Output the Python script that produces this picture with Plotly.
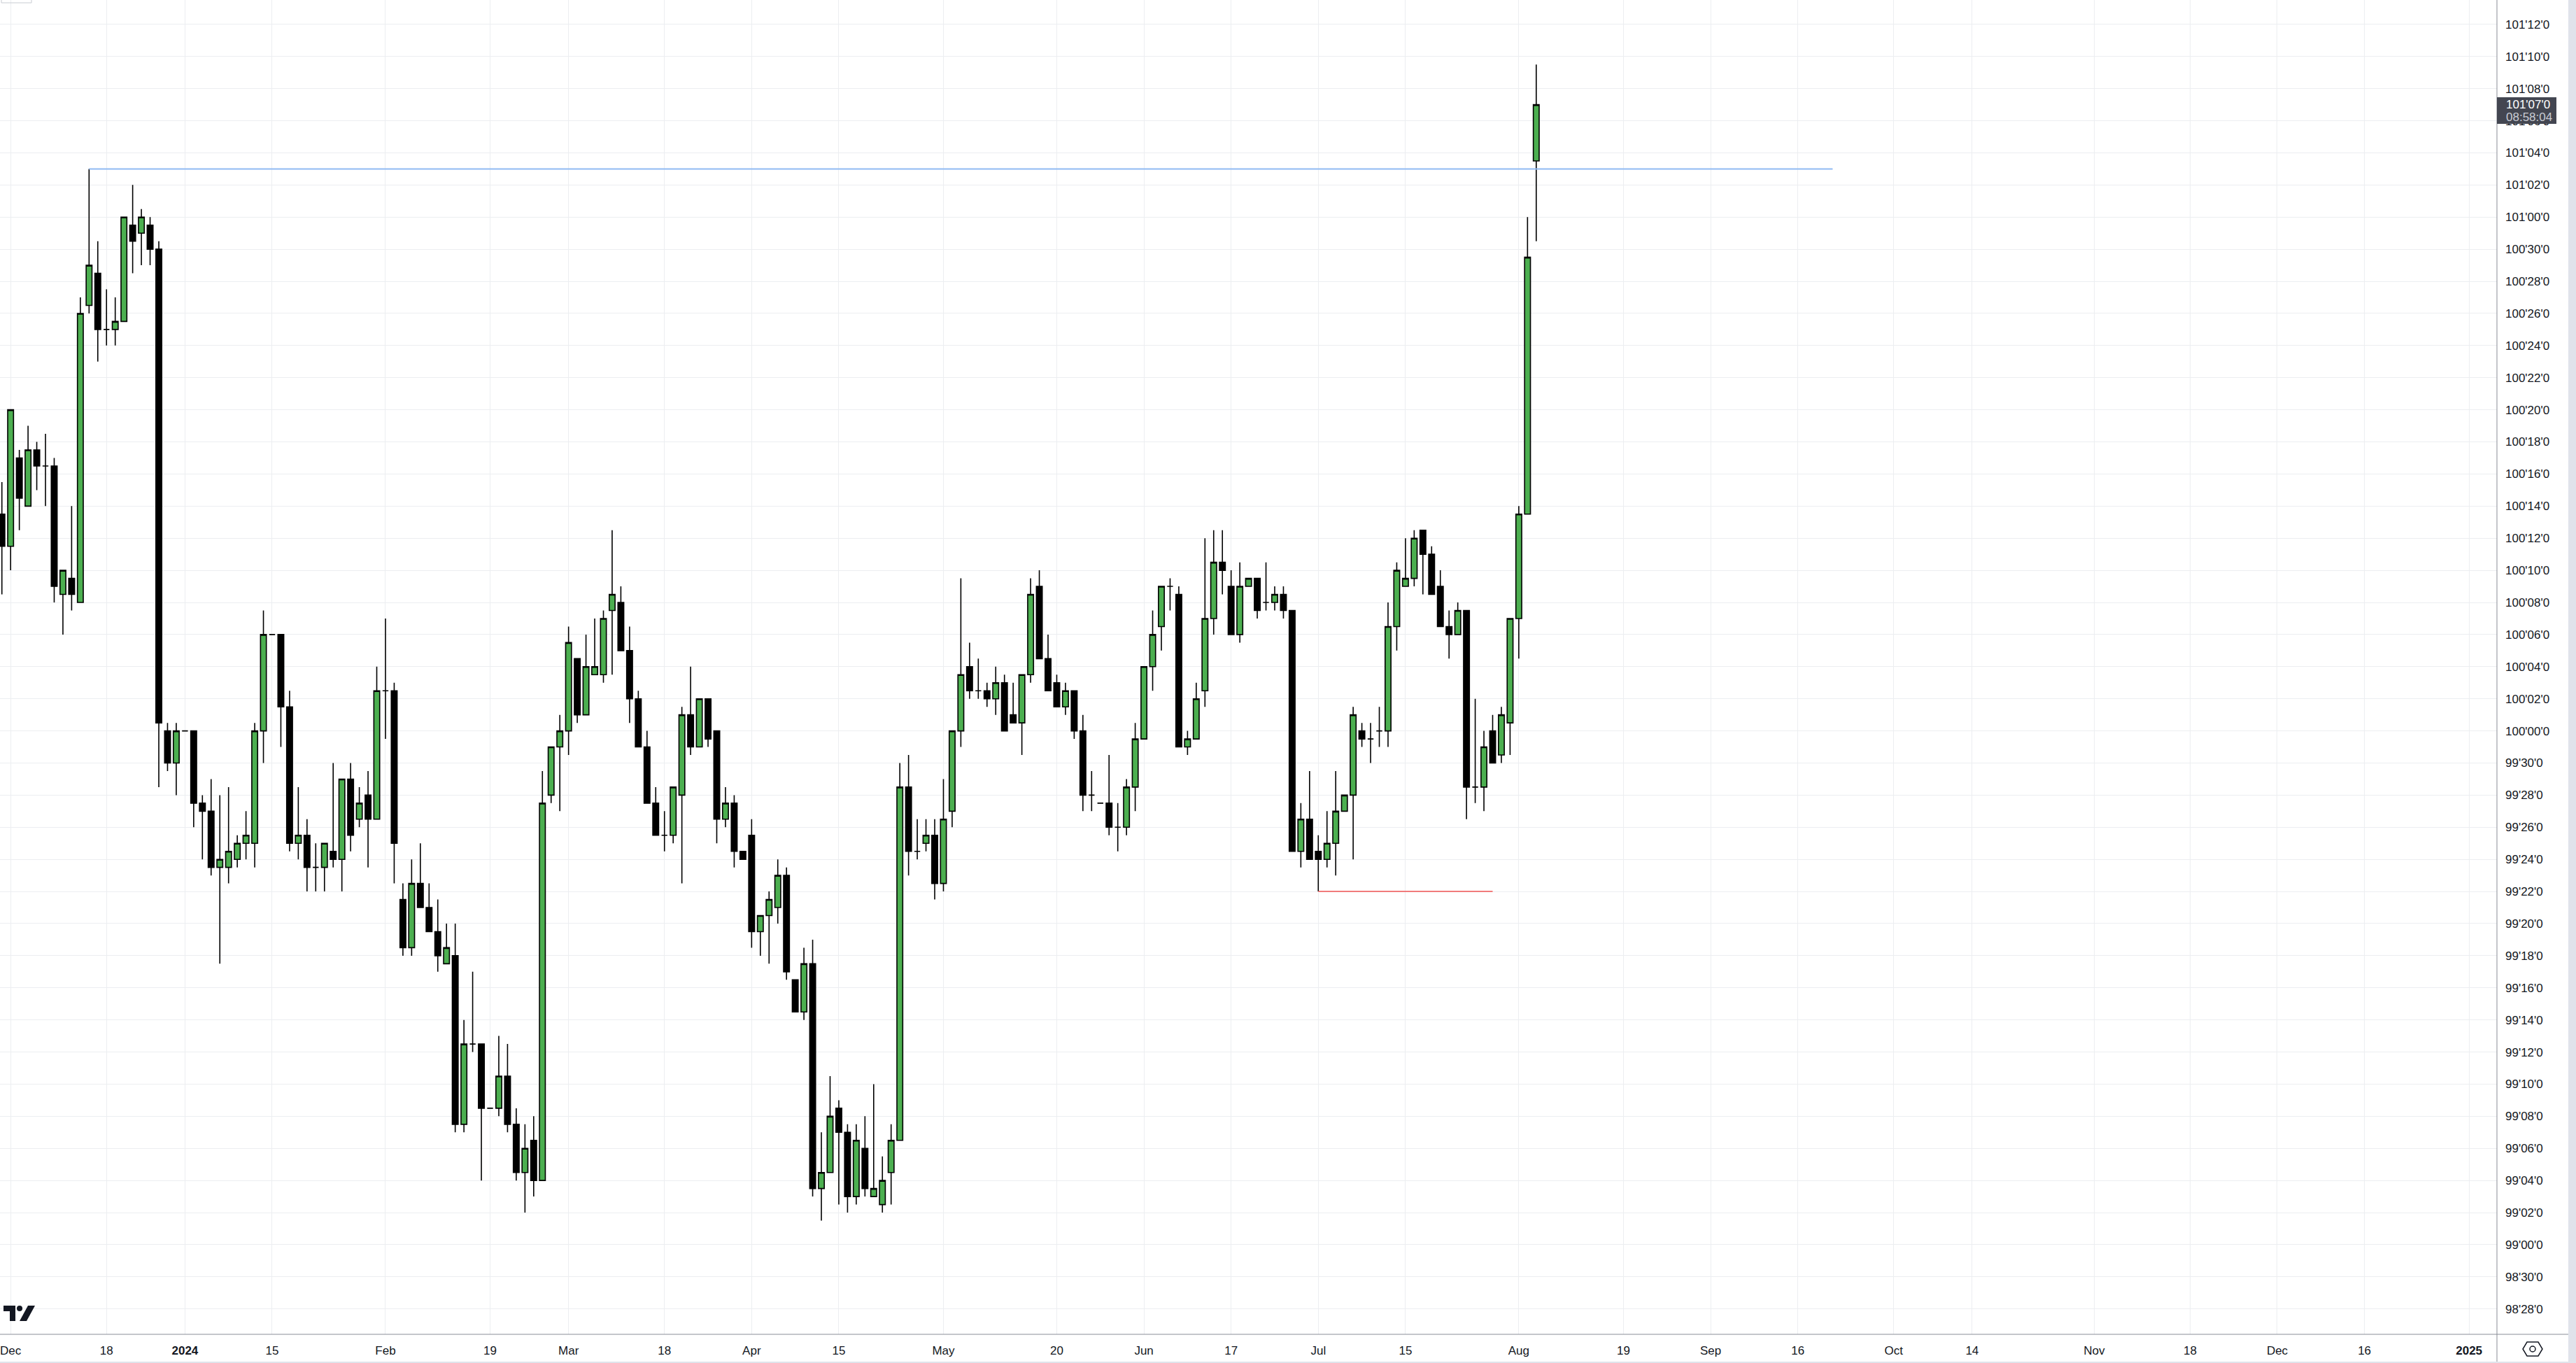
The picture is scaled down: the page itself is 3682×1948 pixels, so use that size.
import pandas as pd
import plotly.graph_objects as go

# ---------------- data: daily OHLC, quoted in 32nds above 99'00 ----------------
OPEN_32 = [
    45.5, 43.5, 49, 46, 49.5, 48.5, 48.5, 40.5, 41.5, 40,
    58.5, 60.5, 57, 57, 57.5, 63.5, 63, 63.5, 62, 32,
    30, 32, 32, 27.5, 27, 23.5, 23.5, 24, 25, 25,
    32, 38, 38, 33.5, 25, 25.5, 23.5, 23.5, 24.5, 24,
    29, 26.5, 28, 26.5, 34.5, 34.5, 21.5, 18.5, 22.5, 21,
    19.5, 17.5, 18, 7.5, 12.5, 12.5, 8.5, 8.5, 10.5, 7.5,
    4.5, 6.5, 4, 28, 31, 32, 36.5, 33, 35.5, 35.5,
    39.5, 40, 37, 34, 31, 27.5, 25.5, 25.5, 28, 33,
    31, 34, 32, 26.5, 27.5, 24.5, 25.5, 19.5, 20.5, 21,
    23, 16.5, 14.5, 17.5, 3.5, 4.5, 8.5, 7, 3, 6,
    3, 2.5, 4.5, 6.5, 28.5, 24.5, 25, 25.5, 22.5, 27,
    32, 36, 34.5, 34.5, 34, 35, 33, 32.5, 35.5, 41,
    36.5, 35, 33.5, 34.5, 32, 28, 27.5, 27.5, 26, 26,
    28.5, 31.5, 36, 38.5, 41, 40.5, 31, 31.5, 34.5, 39,
    42.5, 41, 38, 41, 41.5, 40, 40, 40.5, 39.5, 24.5,
    26.5, 24.5, 24, 25, 27, 28, 32, 31.5, 32, 32,
    38.5, 41, 41.5, 44.5, 43, 41, 38.5, 38, 39.5, 28.5,
    28.5, 32, 30.5, 32.5, 39, 45.5, 67.5,
]
HIGH_32 = [
    47.5, 52, 49.5, 51, 50, 50.5, 49, 42, 46, 59,
    67, 62.5, 59.5, 59, 64, 66, 64.5, 64, 62.5, 32.5,
    32.5, 32, 32, 28, 29, 28, 28.5, 25.5, 27, 32.5,
    39.5, 38, 38, 34.5, 28.5, 26.5, 25, 25, 30, 29,
    30, 28.5, 29.5, 36, 39, 35, 22.5, 24, 25, 22.5,
    21.5, 20, 20, 14, 17, 12.5, 8.5, 13, 12.5, 8.5,
    7.5, 8, 29.5, 31, 33, 38.5, 36.5, 38, 39, 39.5,
    44.5, 41, 38.5, 34.5, 32, 28.5, 27, 28.5, 33.5, 36,
    34, 34, 32, 28.5, 28, 24.5, 26.5, 20.5, 22, 24,
    23.5, 16.5, 18.5, 19, 7, 10.5, 9, 7.5, 7.5, 8,
    10, 5.5, 7.5, 30, 30.5, 26.5, 26.5, 26.5, 29, 32,
    41.5, 37.5, 36.5, 35, 36, 35.5, 35, 35.5, 41.5, 42,
    38, 35.5, 35, 34.5, 33, 29.5, 27.5, 30.5, 27.5, 29,
    32.5, 36, 39.5, 41, 41.5, 41, 32, 35, 44, 44.5,
    44.5, 42, 42.5, 41.5, 41.5, 42.5, 41, 41, 39.5, 27.5,
    29.5, 25.5, 27, 29.5, 28, 33.5, 32.5, 32.5, 33.5, 40,
    42.5, 44, 44.5, 44.5, 43.5, 42, 39.5, 40, 39.5, 34,
    32, 33, 33.5, 39, 46, 64, 73.5,
]
LOW_32 = [
    40.5, 42, 44.5, 46, 47, 46, 40, 38, 39.5, 40,
    58, 55, 56, 56, 57.5, 60.5, 61, 61, 28.5, 29.5,
    28, 32, 26, 24, 23, 17.5, 22.5, 23.5, 24, 23.5,
    30, 38, 31, 24.5, 24, 22, 22, 22, 23.5, 22,
    24.5, 26, 23.5, 26.5, 31.5, 22.5, 18, 18, 21, 19.5,
    17, 17.5, 7, 7, 12, 4, 8.5, 8, 7, 4,
    2, 3, 4, 27.5, 27, 30.5, 32.5, 33, 35.5, 35,
    35.5, 37, 32.5, 31, 27.5, 25.5, 24.5, 25, 22.5, 30.5,
    31, 31, 25, 26, 23.5, 24, 18.5, 18, 17.5, 20,
    16.5, 14.5, 14, 3, 1.5, 4.5, 2.5, 2, 2.5, 3,
    3, 2, 2.5, 6.5, 23, 24, 24.5, 21.5, 22, 26,
    31, 34, 34, 33.5, 33, 32, 32.5, 30.5, 35, 36.5,
    34.5, 33.5, 33, 31.5, 27, 27, 27.5, 25.5, 24.5, 25.5,
    27, 31.5, 34.5, 37, 39.5, 31, 30.5, 31.5, 33.5, 38,
    40.5, 38, 37.5, 41, 39, 39.5, 39.5, 39, 24.5, 23.5,
    24, 22, 23.5, 23, 27, 24, 31, 30, 31, 31,
    37, 41, 41, 40.5, 40.5, 38.5, 36.5, 38, 26.5, 27.5,
    27, 30, 30, 30.5, 36.5, 45.5, 62.5,
]
CLOSE_32 = [
    43.5, 52, 46.5, 49.5, 48.5, 48.5, 41, 42, 40.5, 58,
    61, 57, 57, 57.5, 64, 62.5, 64, 62, 32.5, 30,
    32, 32, 27.5, 27, 23.5, 24, 24.5, 25, 25.5, 32,
    38, 38, 33.5, 25, 25.5, 23.5, 23.5, 25, 24, 29,
    25.5, 27.5, 26.5, 34.5, 34.5, 25, 18.5, 22.5, 21, 19.5,
    18, 18.5, 7.5, 12.5, 12.5, 8.5, 8.5, 10.5, 7.5, 4.5,
    6, 4, 27.5, 31, 32, 37.5, 33, 36, 36, 39,
    40.5, 37, 34, 31, 27.5, 25.5, 25.5, 28.5, 33, 31,
    34, 31.5, 26.5, 27.5, 24.5, 24, 19.5, 20.5, 21.5, 23,
    17, 14.5, 17.5, 3.5, 4.5, 8, 7, 3, 6.5, 3.5,
    3.5, 4, 6.5, 28.5, 24.5, 24.5, 25.5, 22.5, 26.5, 32,
    35.5, 34.5, 34.5, 34, 35, 32, 32.5, 35.5, 40.5, 36.5,
    34.5, 33.5, 34.5, 32, 28, 28, 27.5, 26, 26, 28.5,
    31.5, 36, 38, 41, 41, 31, 31.5, 34, 39, 42.5,
    42, 38, 41, 41.5, 39.5, 40, 40.5, 39.5, 24.5, 26.5,
    24, 24, 25, 27, 28, 33, 31.5, 31.5, 32, 38.5,
    42, 41.5, 44, 43, 40.5, 38.5, 38, 39.5, 28.5, 28.5,
    31, 30, 33, 39, 45.5, 61.5, 71,
]
BASE_PRICE = 99.0

# trading-day calendar (all weekdays except 25 Dec 2023), continues into the future
CALENDAR = pd.bdate_range("2023-11-30", "2025-01-10")
CALENDAR = CALENDAR[CALENDAR != pd.Timestamp("2023-12-25")]
DATES = CALENDAR[: len(OPEN_32)]

X_TICK_DATES = [
    "2023-12-01", "2023-12-18", "2024-01-01", "2024-01-15", "2024-02-01", "2024-02-19",
    "2024-03-01", "2024-03-18", "2024-04-01", "2024-04-15", "2024-05-01", "2024-05-20",
    "2024-06-03", "2024-06-17", "2024-07-01", "2024-07-15", "2024-08-01", "2024-08-19",
    "2024-09-02", "2024-09-16", "2024-10-01", "2024-10-14", "2024-11-01", "2024-11-18",
    "2024-12-02", "2024-12-16", "2025-01-01",
]
X_TICK_LABELS = [
    "Dec", "18", "<b>2024</b>", "15", "Feb", "19", "Mar", "18", "Apr", "15", "May", "20",
    "Jun", "17", "Jul", "15", "Aug", "19", "Sep", "16", "Oct", "14", "Nov", "18",
    "Dec", "16", "<b>2025</b>",
]
Y_TICK_LABELS = [
    "98'28'0", "98'30'0", "99'00'0", "99'02'0", "99'04'0", "99'06'0", "99'08'0",
    "99'10'0", "99'12'0", "99'14'0", "99'16'0", "99'18'0", "99'20'0", "99'22'0",
    "99'24'0", "99'26'0", "99'28'0", "99'30'0", "100'00'0", "100'02'0", "100'04'0",
    "100'06'0", "100'08'0", "100'10'0", "100'12'0", "100'14'0", "100'16'0", "100'18'0",
    "100'20'0", "100'22'0", "100'24'0", "100'26'0", "100'28'0", "100'30'0", "101'00'0",
    "101'02'0", "101'04'0", "101'06'0", "101'08'0", "101'10'0", "101'12'0",
]

# drawn levels (32nds above 99'00) and their date spans
RESIST_32, RESIST_FROM, RESIST_TO = 67, "2023-12-14", "2024-09-20"
SUPPORT_32, SUPPORT_FROM, SUPPORT_TO = 22, "2024-07-01", "2024-07-29"
LAST_LABEL, COUNTDOWN = "101'07'0", "08:58:04"


def to_price(t32):
    return BASE_PRICE + t32 / 32.0


def label_to_price(s):
    p, t, _ = s.split("'")
    return int(p) + int(t) / 32.0


def pos(d):
    return int(CALENDAR.get_loc(pd.Timestamp(d)))


X = [pos(d) for d in DATES]
O = [to_price(v) for v in OPEN_32]
H = [to_price(v) for v in HIGH_32]
L = [to_price(v) for v in LOW_32]
C = [to_price(v) for v in CLOSE_32]

# ---------------- layout geometry (pixels) ----------------
W, HGT = 3682, 1948
PW, PH = 3569, 1907  # plot area width/height (plot starts at 0,0)


def xp(px):
    return px / PW


def yp(py):
    return (PH - py) / PH


FONT = "Liberation Sans, Arial, sans-serif"
TXT = "#131722"
FS = 17

fig = go.Figure()
fig.add_trace(go.Candlestick(
    x=X, open=O, high=H, low=L, close=C,
    increasing=dict(fillcolor="#4CAF50", line=dict(color="#000000", width=1.6)),
    decreasing=dict(fillcolor="#000000", line=dict(color="#000000", width=1.6)),
    whiskerwidth=0, showlegend=False, hoverinfo="skip",
))

shapes = [
    # horizontal level lines
    dict(type="line", xref="x", yref="y", x0=pos(RESIST_FROM), x1=pos(RESIST_TO),
         y0=to_price(RESIST_32), y1=to_price(RESIST_32), line=dict(color="#8fbaf3", width=2)),
    dict(type="line", xref="x", yref="y", x0=pos(SUPPORT_FROM), x1=pos(SUPPORT_TO),
         y0=to_price(SUPPORT_32), y1=to_price(SUPPORT_32), line=dict(color="#f05252", width=1.5)),
    # axis separators
    dict(type="line", xref="paper", yref="paper", x0=xp(PW), x1=xp(PW), y0=yp(0), y1=yp(1946),
         line=dict(color="#8a8d96", width=1), layer="above"),
    dict(type="line", xref="paper", yref="paper", x0=xp(0), x1=xp(3671), y0=yp(PH), y1=yp(PH),
         line=dict(color="#8a8d96", width=1), layer="above"),
    # window frame
    dict(type="rect", xref="paper", yref="paper", x0=xp(3671), x1=xp(3690), y0=yp(-5), y1=yp(1960),
         fillcolor="#e0e3eb", line=dict(width=0), layer="above"),
    dict(type="rect", xref="paper", yref="paper", x0=xp(-5), x1=xp(3690), y0=yp(1946), y1=yp(1960),
         fillcolor="#e0e3eb", line=dict(width=0), layer="above"),
    # small toolbar remnant in the top-left corner
    dict(type="rect", xref="paper", yref="paper", x0=xp(2), x1=xp(45), y0=yp(-6), y1=yp(4),
         line=dict(color="#c8cbd2", width=1), fillcolor="rgba(0,0,0,0)", layer="above"),
    # last price box
    dict(type="rect", xref="paper", yref="paper", x0=xp(PW), x1=xp(3654), y0=yp(139), y1=yp(177),
         fillcolor="#434651", line=dict(width=0), layer="above"),
    # settings (hexagon) icon
    dict(type="path", xref="paper", yref="paper", layer="above",
         path="M {} {} L {} {} L {} {} L {} {} L {} {} L {} {} Z".format(
             xp(3612), yp(1918), xp(3628), yp(1918), xp(3634), yp(1928),
             xp(3628), yp(1938), xp(3612), yp(1938), xp(3606), yp(1928)),
         line=dict(color="#131722", width=1.5)),
    dict(type="circle", xref="paper", yref="paper", layer="above",
         x0=xp(3616), x1=xp(3624), y0=yp(1932), y1=yp(1924), line=dict(color="#131722", width=1.5)),
    # TradingView logo
    dict(type="path", xref="paper", yref="paper", layer="above",
         path="M {} {} L {} {} L {} {} L {} {} L {} {} L {} {} Z".format(
             xp(5), yp(1866), xp(22), yp(1866), xp(22), yp(1888), xp(14), yp(1888),
             xp(14), yp(1874), xp(5), yp(1874)),
         fillcolor="#131722", line=dict(width=0)),
    dict(type="circle", xref="paper", yref="paper", layer="above",
         x0=xp(24), x1=xp(32), y0=yp(1874), y1=yp(1866), fillcolor="#131722", line=dict(width=0)),
    dict(type="path", xref="paper", yref="paper", layer="above",
         path="M {} {} L {} {} L {} {} L {} {} Z".format(
             xp(28), yp(1888), xp(38), yp(1888), xp(50), yp(1866), xp(40), yp(1866)),
         fillcolor="#131722", line=dict(width=0)),
]

annotations = [
    dict(xref="paper", yref="paper", x=xp(3580), y=yp(150), xanchor="left", yanchor="middle",
         text=LAST_LABEL, showarrow=False, font=dict(family=FONT, size=FS, color="#ffffff")),
    dict(xref="paper", yref="paper", x=xp(3580), y=yp(167), xanchor="left", yanchor="middle",
         text=COUNTDOWN, showarrow=False, font=dict(family=FONT, size=FS, color="#c9ccd4")),
]

fig.update_layout(
    width=W, height=HGT,
    margin=dict(l=0, r=W - PW, t=0, b=HGT - PH, pad=0),
    paper_bgcolor="#ffffff", plot_bgcolor="#ffffff",
    showlegend=False, boxgap=0.33, boxgroupgap=0,
    shapes=shapes, annotations=annotations,
    font=dict(family=FONT, size=FS, color=TXT),
    xaxis=dict(
        range=[-0.217, 286.2], rangeslider=dict(visible=False),
        tickvals=[pos(d) for d in X_TICK_DATES], ticktext=X_TICK_LABELS,
        showgrid=True, gridcolor="#eceef1", gridwidth=1, zeroline=False, showline=False,
        ticks="", ticklabelstandoff=11, tickfont=dict(family=FONT, size=FS, color=TXT),
    ),
    yaxis=dict(
        side="right", range=[to_price(-5.58), to_price(77.52)],
        tickvals=[label_to_price(s) for s in Y_TICK_LABELS], ticktext=Y_TICK_LABELS,
        showgrid=True, gridcolor="#eceef1", gridwidth=1, zeroline=False, showline=False,
        ticks="", ticklabelstandoff=11, tickfont=dict(family=FONT, size=FS, color=TXT),
    ),
)

fig.write_html(
    "out.html",
    config={"displayModeBar": False},
    post_script="document.body.style.margin='0';document.body.style.overflow='hidden';",
)
